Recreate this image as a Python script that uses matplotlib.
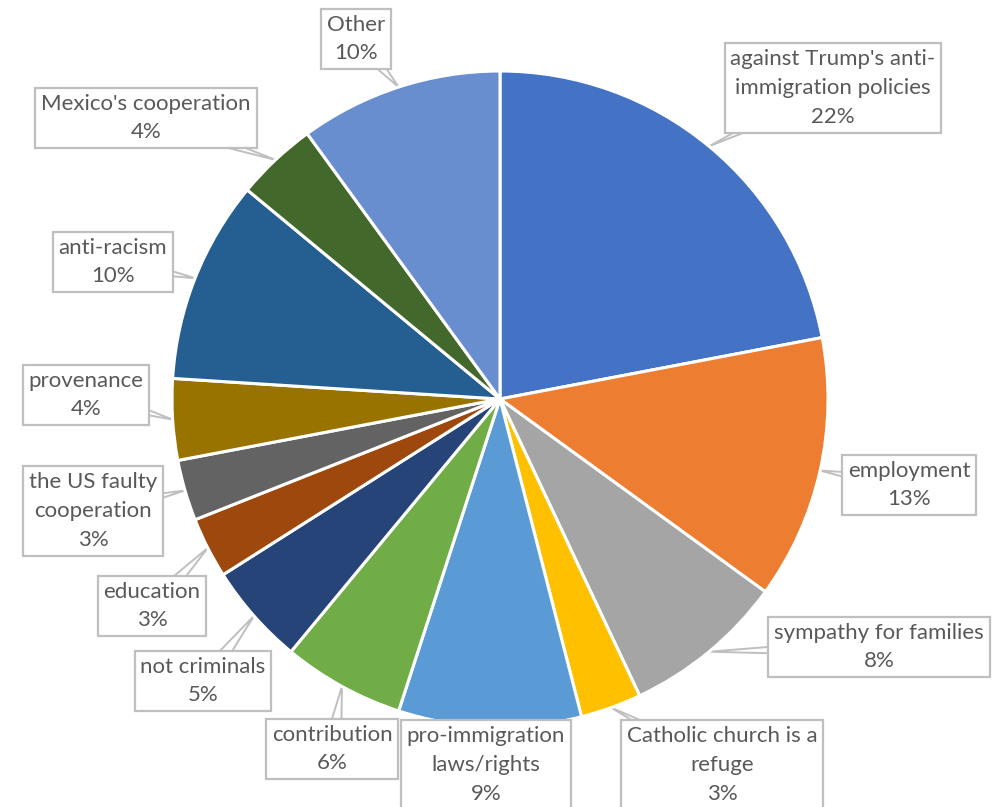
import matplotlib.pyplot as plt
import numpy as np

# Reasons given, clockwise from 12 o'clock
categories = [
    "against Trump's anti-\nimmigration policies", "employment", "sympathy for families",
    "Catholic church is a\nrefuge", "pro-immigration\nlaws/rights", "contribution",
    "not criminals", "education", "the US faulty\ncooperation", "provenance",
    "anti-racism", "Mexico's cooperation", "Other",
]
shares = [22, 13, 8, 3, 9, 6, 5, 3, 3, 4, 10, 4, 10]
colors = ["#4472C4", "#ED7D31", "#A5A5A5", "#FFC000", "#5B9BD5", "#70AD47",
          "#264478", "#9E480E", "#636363", "#997300", "#255E91", "#43682B", "#698ED0"]

# label box centres in pixel space (x from left, y from top)
label_pos = [(833, 88), (909, 485), (879, 647), (722, 765), (486, 765), (332, 749),
             (203, 681), (152, 606), (93, 511), (86, 395), (113, 262), (146, 118),
             (356, 39)]

W, H = 1002, 807
cx, cy, r = 500, H - 399, 328

fig = plt.figure(figsize=(W / 100, H / 100), dpi=100)
ax = fig.add_axes([0, 0, 1, 1])
wedges, _ = ax.pie(shares, colors=colors, startangle=90, counterclock=False,
                   center=(cx, cy), radius=r,
                   wedgeprops=dict(edgecolor="white", linewidth=2.2, zorder=2))
ax.set_xlim(0, W)
ax.set_ylim(0, H)
ax.set_aspect("equal")
ax.axis("off")

total = sum(shares)
start = 0.0
for name, val, (px, py) in zip(categories, shares, label_pos):
    mid = np.deg2rad(90 - (start + val / 2) / total * 360)
    start += val
    tx, ty = cx + r * np.cos(mid), cy + r * np.sin(mid)
    bx, by = px, H - py
    # callout pointer from box centre to the slice rim
    d = np.array([tx - bx, ty - by])
    n = np.array([-d[1], d[0]]) / np.hypot(*d) * 9
    ax.fill([bx + n[0], tx, bx - n[0]], [by + n[1], ty, by - n[1]],
            facecolor="white", edgecolor="#BFBFBF", linewidth=1.4, zorder=1)
    ax.text(bx, by, f"{name}\n{val}%", ha="center", va="center",
            fontsize=16, family="Lato", color="#595959", linespacing=1.55,
            zorder=4,
            bbox=dict(boxstyle="square,pad=0.26", facecolor="white",
                      edgecolor="#BFBFBF", linewidth=1.6))

plt.savefig("out.png", dpi=100)
